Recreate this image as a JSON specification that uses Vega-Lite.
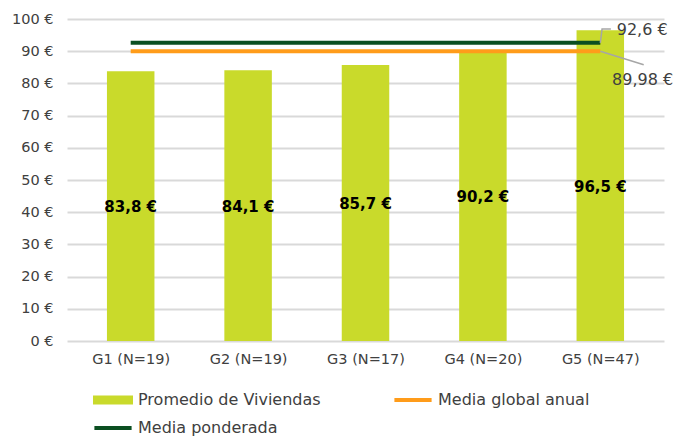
{
  "$schema": "https://vega.github.io/schema/vega-lite/v6.json",
  "width": 597,
  "height": 322,
  "autosize": "none",
  "padding": {"left": 67, "top": 19, "right": 19, "bottom": 100},
  "config": {
    "view": {"stroke": null},
    "font": "DejaVu Sans",
    "axis": {"labelFont": "DejaVu Sans", "labelColor": "#404040", "labelFontSize": 14.5}
  },
  "datasets": {
    "bars": [
      {"g": "G1 (N=19)", "i": 1, "v": 83.8, "label": "83,8 €", "serie": "Promedio de Viviendas"},
      {"g": "G2 (N=19)", "i": 2, "v": 84.1, "label": "84,1 €", "serie": "Promedio de Viviendas"},
      {"g": "G3 (N=17)", "i": 3, "v": 85.7, "label": "85,7 €", "serie": "Promedio de Viviendas"},
      {"g": "G4 (N=20)", "i": 4, "v": 90.2, "label": "90,2 €", "serie": "Promedio de Viviendas"},
      {"g": "G5 (N=47)", "i": 5, "v": 96.5, "label": "96,5 €", "serie": "Promedio de Viviendas"}
    ],
    "lines": [
      {"serie": "Media global anual", "i": 1, "v": 89.98},
      {"serie": "Media global anual", "i": 5, "v": 89.98},
      {"serie": "Media ponderada", "i": 1, "v": 92.6},
      {"serie": "Media ponderada", "i": 5, "v": 92.6}
    ],
    "leaders": [
      {"k": "a", "o": 1, "i": 5.0, "v": 92.6},
      {"k": "a", "o": 2, "i": 5.015, "v": 96.9},
      {"k": "a", "o": 3, "i": 5.09, "v": 96.9},
      {"k": "b", "o": 1, "i": 5.0, "v": 89.98},
      {"k": "b", "o": 2, "i": 5.37, "v": 85.8}
    ],
    "notes": [
      {"i": 5.14, "v": 96.6, "t": "92,6 €"},
      {"i": 5.1, "v": 81.2, "t": "89,98 €"}
    ]
  },
  "layer": [
    {
      "data": {"name": "bars"},
      "mark": {"type": "bar", "size": 47.5},
      "encoding": {
        "x": {
          "field": "i", "type": "quantitative",
          "scale": {"domain": [0.5, 5.5], "nice": false, "zero": false},
          "axis": {
            "values": [1, 2, 3, 4, 5],
            "labelExpr": "['','G1 (N=19)','G2 (N=19)','G3 (N=17)','G4 (N=20)','G5 (N=47)'][datum.value]",
            "title": null, "grid": false, "ticks": false, "domain": false, "labelPadding": 11,
            "labelOverlap": false
          }
        },
        "y": {
          "field": "v", "type": "quantitative",
          "scale": {"domain": [0, 100], "nice": false},
          "axis": {
            "tickCount": 10,
            "labelExpr": "datum.value + ' €'",
            "title": null, "ticks": false, "domain": false, "labelPadding": 14,
            "labelOverlap": false,
            "gridColor": "#D9D9D9", "gridWidth": 2
          }
        },
        "color": {
          "field": "serie", "type": "nominal",
          "scale": {
            "domain": ["Promedio de Viviendas", "Media global anual", "Media ponderada"],
            "range": ["#C9DA2B", "#FF9C1A", "#0B4F21"]
          },
          "legend": {
            "title": null,
            "orient": "none",
            "legendX": 26,
            "legendY": 361,
            "direction": "horizontal",
            "columns": 2,
            "columnPadding": 72,
            "rowPadding": -3,
            "labelFontSize": 16,
            "labelColor": "#404040",
            "labelFont": "DejaVu Sans",
            "labelLimit": 400,
            "symbolSize": 1600,
            "labelOffset": 5,
            "encode": {
              "symbols": {
                "update": {
                  "shape": {"signal": "datum.label == 'Promedio de Viviendas' ? 'M-1,-0.23H1V0.23H-1Z' : 'M-0.93,-0.1H0.93V0.1H-0.93Z'"},
                  "strokeWidth": {"value": 0}
                }
              }
            }
          }
        }
      }
    },
    {
      "data": {"name": "bars"},
      "transform": [{"calculate": "datum.v / 2", "as": "mid"}],
      "mark": {"type": "text", "fontWeight": "bold", "fontSize": 15, "color": "#000000", "font": "DejaVu Sans", "dy": 1},
      "encoding": {
        "x": {"field": "i", "type": "quantitative"},
        "y": {"field": "mid", "type": "quantitative"},
        "text": {"field": "label"}
      }
    },
    {
      "data": {"name": "lines"},
      "mark": {"type": "line", "strokeWidth": 4},
      "encoding": {
        "x": {"field": "i", "type": "quantitative"},
        "y": {"field": "v", "type": "quantitative"},
        "color": {"field": "serie", "type": "nominal"},
        "detail": {"field": "serie"}
      }
    },
    {
      "data": {"name": "leaders"},
      "mark": {"type": "line", "strokeWidth": 1.5, "color": "#A6A6A6"},
      "encoding": {
        "x": {"field": "i", "type": "quantitative"},
        "y": {"field": "v", "type": "quantitative"},
        "detail": {"field": "k"},
        "order": {"field": "o"}
      }
    },
    {
      "data": {"name": "notes"},
      "mark": {"type": "text", "align": "left", "fontSize": 16, "color": "#404040", "font": "DejaVu Sans"},
      "encoding": {
        "x": {"field": "i", "type": "quantitative"},
        "y": {"field": "v", "type": "quantitative"},
        "text": {"field": "t"}
      }
    }
  ]
}
